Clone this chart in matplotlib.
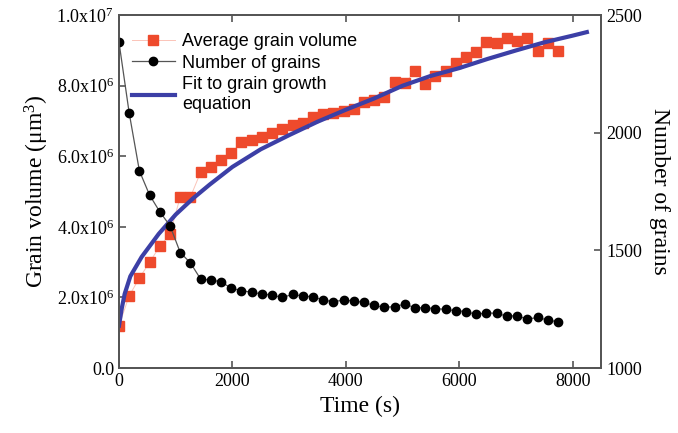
import numpy as np
import matplotlib.pyplot as plt
from matplotlib.ticker import FuncFormatter

plt.rcParams['mathtext.fontset'] = 'custom'
plt.rcParams['mathtext.rm'] = 'Liberation Serif'
plt.rcParams['mathtext.it'] = 'Liberation Serif:italic'

# time (s) of each snapshot
time = [0, 180, 360, 540, 720, 900, 1080, 1260, 1440, 1620, 1800,
        1980, 2160, 2340, 2520, 2700, 2880, 3060, 3240, 3420, 3600,
        3780, 3960, 4140, 4320, 4500, 4680, 4860, 5040, 5220, 5400,
        5580, 5760, 5940, 6120, 6300, 6480, 6660, 6840, 7020, 7200,
        7380, 7560, 7740]

# average grain volume (um^3)
volume = [1.2e6, 2.05e6, 2.55e6, 3.0e6, 3.45e6, 3.8e6, 4.85e6, 4.85e6,
          5.55e6, 5.7e6, 5.9e6, 6.1e6, 6.4e6, 6.45e6, 6.55e6, 6.65e6,
          6.78e6, 6.9e6, 6.95e6, 7.1e6, 7.2e6, 7.22e6, 7.28e6, 7.33e6,
          7.53e6, 7.59e6, 7.67e6, 8.1e6, 8.07e6, 8.41e6, 8.05e6, 8.27e6,
          8.41e6, 8.64e6, 8.81e6, 8.95e6, 9.24e6, 9.2e6, 9.35e6, 9.26e6,
          9.35e6, 8.98e6, 9.2e6, 8.98e6]

# number of grains
n_grains = [2385, 2084, 1838, 1735, 1664, 1605, 1491, 1447, 1378, 1374,
            1367, 1339, 1329, 1322, 1315, 1310, 1300, 1313, 1306, 1303,
            1289, 1282, 1289, 1285, 1279, 1266, 1258, 1261, 1272, 1256,
            1256, 1253, 1249, 1244, 1240, 1228, 1235, 1232, 1221, 1222,
            1208, 1215, 1204, 1197]

# fit curve
fit_t = [0, 50, 100, 200, 400, 700, 1000, 1300, 1600, 2000, 2500, 3000,
         3500, 4000, 4500, 5000, 5500, 6000, 6500, 7000, 7500, 8000, 8250]
fit_v = [1.2e6, 1.7e6, 2.1e6, 2.6e6, 3.15e6, 3.8e6, 4.35e6, 4.8e6, 5.2e6,
         5.7e6, 6.2e6, 6.6e6, 6.98e6, 7.32e6, 7.64e6, 8.0e6, 8.28e6, 8.5e6,
         8.76e6, 9.0e6, 9.23e6, 9.42e6, 9.52e6]

fig = plt.figure(figsize=(6.78, 4.33), dpi=100)
ax = fig.add_axes([0.1755, 0.150, 0.711, 0.815])
ax2 = ax.twinx()

l1, = ax.plot(time, volume, color='#fbc4b8', lw=0.7, marker='s', ms=7,
              mfc='#ee4a2c', mec='#ee4a2c', label='Average grain volume')
l3, = ax.plot(fit_t, fit_v, color='#3c3fa6', lw=3,
              label='Fit to grain growth\nequation')
l2, = ax2.plot(time, n_grains, color='#555555', lw=0.9, marker='o', ms=6,
               mfc='black', mec='black', label='Number of grains')

ax.set_xlim(0, 8500)
ax.set_ylim(0, 1.0e7)
ax2.set_ylim(1000, 2500)

ax.set_xticks([0, 2000, 4000, 6000, 8000])
ax.set_yticks([0, 2e6, 4e6, 6e6, 8e6, 1e7])
ax2.set_yticks([1000, 1500, 2000, 2500])


def sci(v, pos):
    if v == 0:
        return '0.0'
    e = int(np.floor(np.log10(v)))
    return r'%.1fx10$^{%d}$' % (v / 10**e, e)


ax.yaxis.set_major_formatter(FuncFormatter(sci))

for a in (ax, ax2):
    for s in a.spines.values():
        s.set_color('#555555')
        s.set_linewidth(1.3)
ax.tick_params(axis='both', direction='in', length=5, width=1.2,
               color='#555555', labelsize=13, top=True)
ax2.tick_params(axis='y', direction='in', length=5, width=1.2,
                color='#555555', labelsize=13)
for lab in ax.get_xticklabels() + ax.get_yticklabels() + ax2.get_yticklabels():
    lab.set_fontfamily('Liberation Serif')

ax.set_xlabel('Time (s)', fontsize=17, fontfamily='Liberation Serif')
ax.set_ylabel(r'Grain volume ($\mathrm{\mu}$m$^3$)', fontsize=17,
              fontfamily='Liberation Serif')
ax2.set_ylabel('Number of grains', fontsize=17, fontfamily='Liberation Serif',
               rotation=270, labelpad=20)

leg = ax.legend([l1, l2, l3], [l1.get_label(), l2.get_label(), l3.get_label()],
                loc='upper left', frameon=False, handlelength=2.4,
                prop={'family': 'Liberation Sans', 'size': 13},
                bbox_to_anchor=(0.0, 0.985),
                borderaxespad=0.3, labelspacing=0.25, handletextpad=0.4)

fig.savefig('out.png', dpi=100)
